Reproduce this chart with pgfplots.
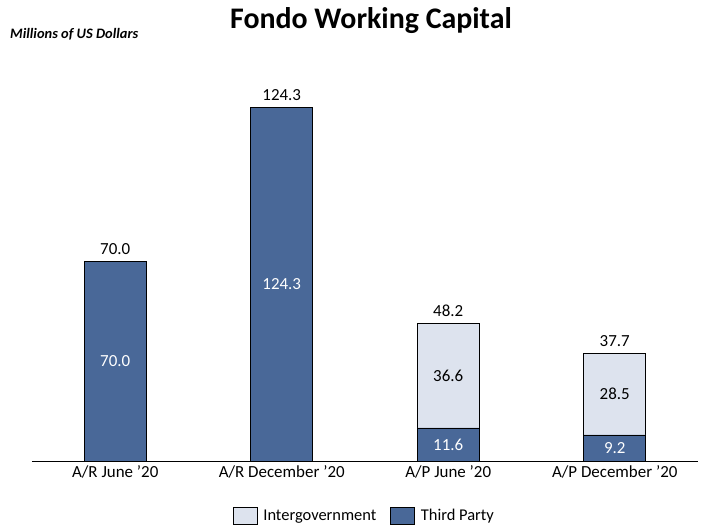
\documentclass[border=0pt]{standalone}
\usepackage{fontspec}
\setmainfont{Carlito}
\usepackage{pgfplots}
\pgfplotsset{compat=1.18}
\usepackage{pgfplotstable}
\definecolor{tp}{RGB}{73,104,152}
\definecolor{ig}{RGB}{221,227,238}

\pgfplotstableread{
x third inter
0 70.0 0
1 124.3 0
2 11.6 36.6
3 9.2 28.5
}\datatable

\pgfplotstableread{
x y label
0 35.0 70.0
1 62.15 124.3
2 5.8 11.6
3 4.6 9.2
}\tplabels

\pgfplotstableread{
x y label
2 29.9 36.6
3 23.45 28.5
}\iglabels

\pgfplotstableread{
x y label
0 70.0 70.0
1 124.3 124.3
2 48.2 48.2
3 37.7 37.7
}\totlabels

\begin{document}
\begin{tikzpicture}
\useasboundingbox (-32bp,-66bp) rectangle (671bp,461bp);
\begin{axis}[
  width=666bp, height=398.7bp, scale only axis,
  at={(0,0)}, anchor=south west,
  xmin=-0.5, xmax=3.5, ymin=0, ymax=140,
  ybar stacked, bar width=62bp,
  xtick={0,1,2,3},
  xticklabels={A/R June ’20, A/R December ’20, A/P June ’20, A/P December ’20},
  axis x line*=bottom, axis y line=none,
  axis line style={black, line width=0.8bp},
  major tick length=0pt,
  x tick label style={font=\fontsize{17}{20}\selectfont, yshift=-1bp},
  reverse legend,
  legend columns=2,
  legend style={at={(0.499,-0.138)}, anchor=center, draw=none, fill=none,
    font=\fontsize{16.5}{19}\selectfont,
    /tikz/every odd column/.append style={column sep=4bp},
    /tikz/every even column/.append style={column sep=12bp}},
  legend image code/.code={\draw[#1] (0bp,-8.5bp) rectangle (24bp,8.5bp);},
]
\addplot[fill=tp, draw=black, line width=0.6bp] table[x=x, y=third] {\datatable};
\addlegendentry{Third Party}
\addplot[fill=ig, draw=black, line width=0.6bp] table[x=x, y=inter] {\datatable};
\addlegendentry{Intergovernment}
\end{axis}
\begin{axis}[
  width=666bp, height=398.7bp, scale only axis,
  at={(0,0)}, anchor=south west,
  xmin=-0.5, xmax=3.5, ymin=0, ymax=140,
  hide axis, clip=false,
]
\addplot[draw=none, mark=none, nodes near coords, point meta=explicit symbolic,
  every node near coord/.append style={anchor=center, text=white, font=\fontsize{17}{20}\selectfont}]
  table[x=x, y=y, meta=label] {\tplabels};
\addplot[draw=none, mark=none, nodes near coords, point meta=explicit symbolic,
  every node near coord/.append style={anchor=center, text=black, font=\fontsize{17}{20}\selectfont}]
  table[x=x, y=y, meta=label] {\iglabels};
\addplot[draw=none, mark=none, nodes near coords, point meta=explicit symbolic,
  every node near coord/.append style={anchor=base, yshift=7bp, text=black, font=\fontsize{17}{20}\selectfont}]
  table[x=x, y=y, meta=label] {\totlabels};
\end{axis}
\node[font=\bfseries\fontsize{30}{35}\selectfont] at (339bp,440bp) {Fondo Working Capital};
\node[anchor=west, inner sep=0pt, font=\bfseries\itshape\fontsize{14.5}{17}\selectfont] at (-22bp,427bp) {Millions of US Dollars};
\end{tikzpicture}
\end{document}
